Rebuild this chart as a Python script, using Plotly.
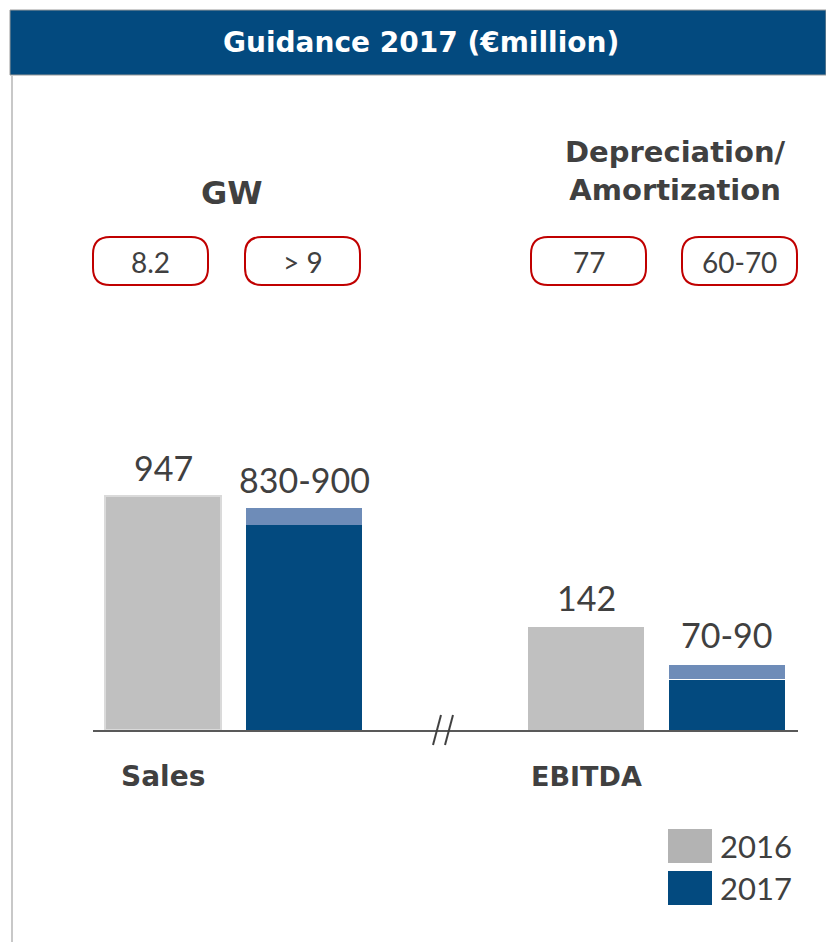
import plotly.graph_objects as go

# ---------------- data ----------------
metrics = ["Sales", "EBITDA"]
actual_2016 = [947, 142]
guidance_low_2017 = [830, 70]
guidance_high_2017 = [900, 90]
label_2016 = ["947", "142"]
label_2017 = ["830-900", "70-90"]
slots = ["Sales 2016", "Sales 2017", "break", "EBITDA 2016", "EBITDA 2017"]
gw_values = ["8.2", "> 9"]
da_values = ["77", "60-70"]
years = ["2016", "2017"]

# ---------------- style ----------------
W, H = 826, 942
GRAY = "#c0c0c0"
GRAY_LEG = "#b3b3b3"
DARK = "#034a7f"
LIGHT = "#6e8cb8"
TXT = "#404040"
RED = "#c00000"
FONT = "Lato"
BOLD = "DejaVu Sans"
BW = 0.823


def px(x):
    return x / W


def py(y):
    return 1 - y / H


fig = go.Figure()

# Sales (y axis)
fig.add_trace(go.Bar(x=[slots[0]], y=[actual_2016[0]], width=BW, marker=dict(color=GRAY, line=dict(color="#dadada", width=2)),
                     yaxis="y", showlegend=False, hoverinfo="skip"))
fig.add_trace(go.Bar(x=[slots[1]], y=[guidance_low_2017[0]], width=BW, marker=dict(color=DARK, line=dict(width=0)),
                     yaxis="y", showlegend=False, hoverinfo="skip"))
fig.add_trace(go.Bar(x=[slots[1]], y=[guidance_high_2017[0] - guidance_low_2017[0]], width=BW,
                     marker=dict(color=LIGHT, line=dict(width=0)), yaxis="y", showlegend=False, hoverinfo="skip"))
# EBITDA (y2 axis)
fig.add_trace(go.Bar(x=[slots[3]], y=[actual_2016[1]], width=BW, marker=dict(color=GRAY, line=dict(width=0)),
                     yaxis="y2", showlegend=False, hoverinfo="skip"))
fig.add_trace(go.Bar(x=[slots[4]], y=[guidance_low_2017[1]], width=BW, marker=dict(color=DARK, line=dict(color="white", width=1)),
                     yaxis="y2", showlegend=False, hoverinfo="skip"))
fig.add_trace(go.Bar(x=[slots[4]], y=[guidance_high_2017[1] - guidance_low_2017[1]], width=BW,
                     marker=dict(color=LIGHT, line=dict(color="white", width=1)), yaxis="y2", showlegend=False, hoverinfo="skip"))

ydom = [py(730), py(330)]
fig.update_layout(
    width=W, height=H,
    margin=dict(l=0, r=0, t=0, b=0),
    paper_bgcolor="white", plot_bgcolor="white",
    barmode="stack",
    showlegend=False,
    font=dict(family=FONT, color=TXT),
    xaxis=dict(domain=[px(92.5), px(797.5)], type="category", categoryorder="array", categoryarray=slots,
               range=[-0.5, 4.5], showticklabels=False, ticks="", showgrid=False, zeroline=False,
               showline=True, linecolor="#595959", linewidth=2, fixedrange=True),
    yaxis=dict(domain=ydom, range=[0, 1622], visible=False, showgrid=False, zeroline=False),
    yaxis2=dict(domain=ydom, range=[0, 553], visible=False, showgrid=False, zeroline=False, overlaying="y"),
)

ann = []
# value labels above bars
ann.append(dict(x=slots[0], y=actual_2016[0], xref="x", yref="y", text=label_2016[0], xanchor="center", yanchor="bottom", yshift=6, showarrow=False, font=dict(size=34, color=TXT)))
ann.append(dict(x=slots[1], y=guidance_high_2017[0], xref="x", yref="y", text=label_2017[0], xanchor="center", yanchor="bottom", yshift=6, showarrow=False, font=dict(size=34, color=TXT)))
ann.append(dict(x=slots[3], y=actual_2016[1], xref="x", yref="y2", text=label_2016[1], xanchor="center", yanchor="bottom", yshift=7, showarrow=False, font=dict(size=34, color=TXT)))
ann.append(dict(x=slots[4], y=guidance_high_2017[1], xref="x", yref="y2", text=label_2017[1], xanchor="center", yanchor="bottom", yshift=8, showarrow=False, font=dict(size=34, color=TXT)))

# category labels
ann.append(dict(x=slots[0], y=py(776), xref="x", yref="paper", text="<b>" + metrics[0] + "</b>", showarrow=False, xanchor="center", yanchor="middle", font=dict(family=BOLD, size=28, color=TXT)))
ann.append(dict(x=slots[3], y=py(776), xref="x", yref="paper", text="<b>" + metrics[1] + "</b>", showarrow=False, xanchor="center", yanchor="middle", font=dict(family=BOLD, size=27, color=TXT)))

# headers
ann.append(dict(x=px(232), y=py(193), xref="paper", yref="paper", text="<b>GW</b>", showarrow=False, xanchor="center", yanchor="middle", font=dict(family=BOLD, size=32, color=TXT)))
ann.append(dict(x=px(675), y=py(171), xref="paper", yref="paper", text="<b>Depreciation/<br>Amortization</b>", showarrow=False, xanchor="center", yanchor="middle", font=dict(family=BOLD, size=29, color=TXT)))

# title bar
shapes = []
shapes.append(dict(type="rect", xref="paper", yref="paper", x0=px(10), x1=px(826), y0=py(75), y1=py(10), fillcolor=DARK, line=dict(color="#9a9a9a", width=1), layer="below"))
ann.append(dict(x=px(421), y=py(43), xref="paper", yref="paper", text="<b>Guidance 2017 (€million)</b>", showarrow=False, xanchor="center", yanchor="middle", font=dict(family=BOLD, size=28, color="white")))
# left border line
shapes.append(dict(type="line", xref="paper", yref="paper", x0=px(12), x1=px(12), y0=py(942), y1=py(75), line=dict(color="#c8c8c8", width=2)))

# pills
hw, hh, r = 57.5, 24, 17
pill_path = (f"M {-hw + r},{-hh} L {hw - r},{-hh} Q {hw},{-hh} {hw},{-hh + r} L {hw},{hh - r} Q {hw},{hh} {hw - r},{hh} "
             f"L {-hw + r},{hh} Q {-hw},{hh} {-hw},{hh - r} L {-hw},{-hh + r} Q {-hw},{-hh} {-hw + r},{-hh} Z")
pill_centers = [150.5, 302.5, 588.5, 739.5]
pill_texts = gw_values + da_values
for cx, t in zip(pill_centers, pill_texts):
    shapes.append(dict(type="path", xref="paper", yref="paper", xsizemode="pixel", ysizemode="pixel",
                       xanchor=px(cx), yanchor=py(261), path=pill_path, line=dict(color=RED, width=2), fillcolor="white"))
    ann.append(dict(x=px(cx), y=py(262), xref="paper", yref="paper", text=t, showarrow=False, xanchor="center", yanchor="middle",
                    font=dict(size=28, color=TXT)))

# axis break marks
shapes.append(dict(type="line", xref="paper", yref="paper", x0=px(433), y0=py(745), x1=px(441), y1=py(715), line=dict(color="#404040", width=2)))
shapes.append(dict(type="line", xref="paper", yref="paper", x0=px(445), y0=py(745), x1=px(453), y1=py(715), line=dict(color="#404040", width=2)))

# legend (custom, large swatches)
leg_colors = [GRAY_LEG, DARK]
leg_y = [846, 888]
for c, yy, lab in zip(leg_colors, leg_y, years):
    shapes.append(dict(type="rect", xref="paper", yref="paper", x0=px(668), x1=px(712), y0=py(yy + 17), y1=py(yy - 17), fillcolor=c, line=dict(width=0)))
    ann.append(dict(x=px(718), y=py(yy), xref="paper", yref="paper", text=lab, showarrow=False, xanchor="left", yanchor="middle",
                    font=dict(size=31, color=TXT)))

fig.update_layout(annotations=ann, shapes=shapes)
fig.write_html("out.html", config={"displayModeBar": False},
               post_script="document.body.style.margin='0';document.body.style.padding='0';")
